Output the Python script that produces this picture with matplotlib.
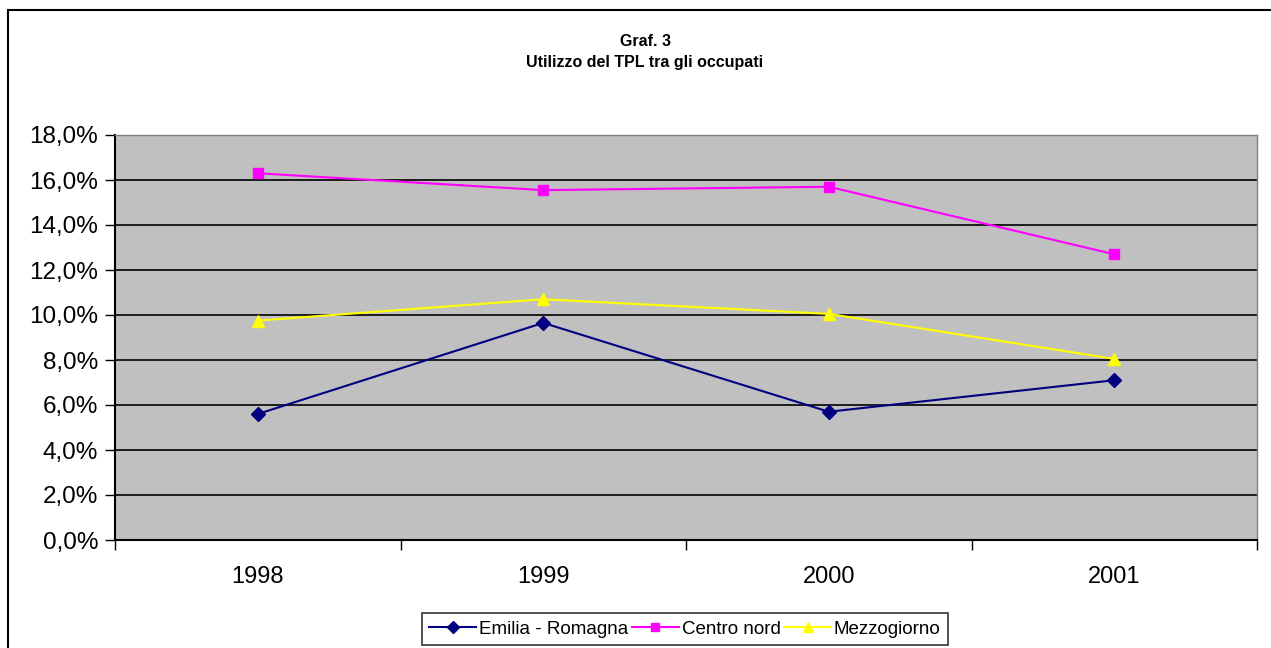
import matplotlib
matplotlib.use("Agg")
import matplotlib.pyplot as plt
from matplotlib.patches import Rectangle
from matplotlib.ticker import FuncFormatter, FixedLocator

plt.rcParams['font.family'] = ['Liberation Sans', 'DejaVu Sans']

years = ["1998", "1999", "2000", "2001"]
emilia_romagna = [5.6, 9.65, 5.7, 7.1]
centro_nord = [16.3, 15.55, 15.7, 12.7]
mezzogiorno = [9.75, 10.7, 10.05, 8.05]

W, H = 1271, 648
fig = plt.figure(figsize=(W / 100, H / 100), dpi=100)
fig.patch.set_facecolor("white")

# outer chart frame
fig.patches.append(Rectangle((8 / W, -0.05), 1.2, 1 - 10 / H + 0.05,
                             transform=fig.transFigure, fill=False,
                             edgecolor="black", linewidth=1.5))

left, right, top, bottom = 115, 1257, 135, 540
ax = fig.add_axes([left / W, 1 - bottom / H, (right - left) / W, (bottom - top) / H])
ax.set_facecolor("#C0C0C0")

x = list(range(len(years)))
ax.plot(x, emilia_romagna, color="#000080", marker="D", markersize=7,
        linewidth=1.5, label="Emilia - Romagna")
ax.plot(x, centro_nord, color="#FF00FF", marker="s", markersize=7,
        markerfacecolor="#FF00FF", linewidth=1.5, label="Centro nord")
ax.plot(x, mezzogiorno, color="#FFFF00", marker="^", markersize=8,
        linewidth=1.5, label="Mezzogiorno")

ax.set_xlim(-0.5, len(years) - 0.5)
ax.set_ylim(0, 18)
ax.set_yticks(range(0, 19, 2))
ax.yaxis.set_major_formatter(FuncFormatter(lambda v, p: f"{v:.1f}%".replace(".", ",")))
ax.grid(axis="y", color="black", linewidth=1.2)
ax.set_axisbelow(True)

ax.xaxis.set_major_locator(FixedLocator([i - 0.5 for i in range(len(years) + 1)]))
ax.xaxis.set_minor_locator(FixedLocator(x))
ax.set_xticklabels([])
ax.set_xticklabels(years, minor=True)
ax.tick_params(axis="x", which="major", direction="out", length=7, width=1, color="black")
ax.tick_params(axis="x", which="minor", length=0, pad=19, labelsize=17)
ax.tick_params(axis="y", direction="out", length=7, width=1, labelsize=17.5, pad=5)

for side in ("top", "right"):
    ax.spines[side].set_color("#808080")
    ax.spines[side].set_linewidth(1)
for side in ("left", "bottom"):
    ax.spines[side].set_color("black")
    ax.spines[side].set_linewidth(1.5)

fig.text(645 / W, 1 - 42 / H, "Graf. 3", ha="center", va="center",
         fontsize=11.5, fontweight="bold")
fig.text(645 / W, 1 - 63 / H, "Utilizzo del TPL tra gli occupati", ha="center",
         va="center", fontsize=11.5, fontweight="bold")

leg = fig.legend(loc="center", bbox_to_anchor=(685 / W, 1 - 629 / H), ncol=3,
                 frameon=True, fancybox=False, edgecolor="black", fontsize=13.5,
                 handlelength=2.5, handletextpad=0.15, columnspacing=0.2,
                 borderpad=0.38, borderaxespad=0, markerscale=0.85)
leg.get_frame().set_linewidth(1.2)

fig.savefig("out.png", dpi=100)
